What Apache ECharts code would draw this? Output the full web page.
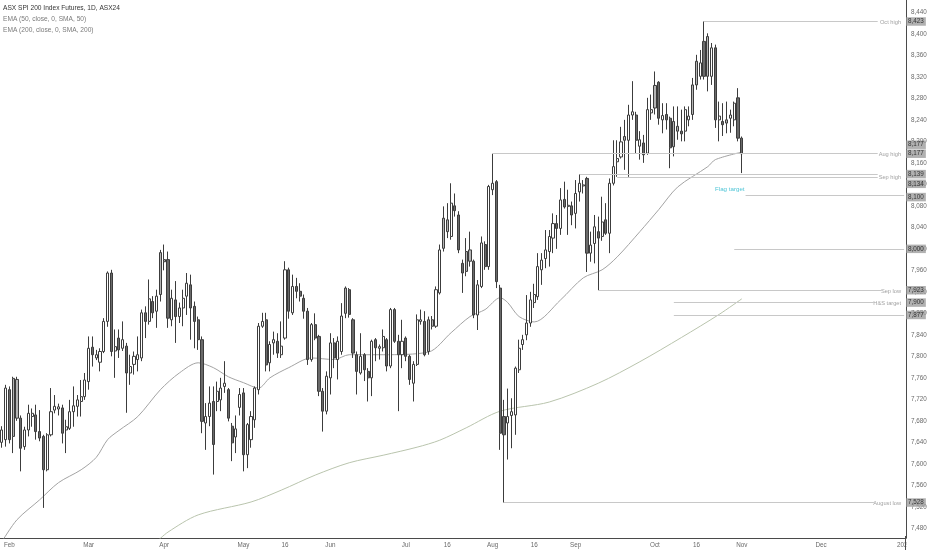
<!DOCTYPE html>
<html><head><meta charset="utf-8">
<script src="https://cdn.jsdelivr.net/npm/echarts@6/dist/echarts.min.js"></script>
<style>html,body{margin:0;padding:0;background:#fff}#c{width:932px;height:550px}</style>
</head><body><div id="c"></div>
<script>
// ---------- DATA ----------
const firstDay = '2024-01-30';
const lastDay = '2025-01-01';
const holidays = ['2024-03-29', '2024-04-01'];

const tickDates = ['2024-02-01','2024-03-01','2024-04-02','2024-05-01','2024-05-16','2024-06-03','2024-07-01','2024-07-16','2024-08-01','2024-08-16','2024-09-02','2024-10-01','2024-10-16','2024-11-01','2024-12-02','2025-01-01'];
const tickTexts = ['Feb','Mar','Apr','May','16','Jun','Jul','16','Aug','16','Sep','Oct','16','Nov','Dec','2025'];
const yTicks = [7480,7520,7560,7600,7640,7680,7720,7760,7800,7840,7880,7920,7960,8000,8040,8080,8120,8160,8200,8240,8280,8320,8360,8400,8440];

// [open, close, low, high], one per trading day from 2024-01-30
const candles = [
[7640,7663,7630,7670],[7645,7741,7632,7747],
[7738,7645,7638,7744],[7759,7651,7620,7762],[7757,7685,7680,7762],[7685,7629,7586,7690],[7632,7663,7626,7669],
[7663,7694,7651,7710],[7688,7694,7669,7703],[7691,7660,7645,7710],[7660,7648,7642,7700],[7651,7589,7518,7654],
[7589,7654,7586,7657],[7654,7697,7651,7741],[7700,7707,7694,7728],[7702,7706,7690,7712],[7704,7657,7638,7710],
[7663,7669,7620,7682],[7666,7697,7663,7719],[7697,7708,7669,7744],[7707,7719,7688,7728],[7716,7725,7688,7756],
[7725,7756,7719,7769],[7753,7815,7738,7837],[7817,7803,7781,7837],[7797,7803,7793,7812],[7789,7809,7772,7815],
[7809,7865,7806,7871],[7865,7955,7855,7958],[7955,7809,7800,7961],[7810,7818,7760,7850],[7834,7812,7797,7850],
[7815,7831,7810,7865],[7819,7769,7695,7825],[7769,7781,7747,7803],[7785,7800,7766,7809],[7794,7803,7772,7837],
[7797,7881,7791,7887],[7881,7865,7834,7893],[7865,7907,7859,7943],[7902,7881,7871,7912],[7884,7912,7853,7924],
[7993,7915,7902,7998],[7980,7976,7960,8008],[7980,7871,7853,7995],[7868,7908,7856,7924],[7905,7874,7825,7940],
[7874,7890,7862,7900],[7890,7908,7856,7924],[7912,7936,7877,7955],[7933,7890,7831,7952],[7893,7865,7815,7902],
[7868,7831,7812,7874],[7831,7679,7657,7837],[7676,7688,7626,7713],[7688,7713,7670,7744],[7716,7636,7580,7744],
[7716,7735,7698,7753],[7719,7741,7698,7760],[7744,7750,7732,7791],[7738,7685,7679,7741],[7670,7639,7605,7676],
[7650,7665,7620,7690],[7705,7729,7690,7741],[7732,7617,7586,7741],[7617,7673,7592,7676],[7645,7688,7630,7698],
[7682,7741,7667,7744],[7738,7856,7729,7862],[7856,7865,7853,7881],[7868,7784,7772,7881],[7788,7822,7772,7828],
[7825,7831,7803,7846],[7828,7806,7797,7843],[7803,7819,7797,7865],[7834,7961,7831,7977],[7961,7884,7870,7965],
[7881,7930,7877,7952],[7930,7921,7908,7946],[7921,7912,7902,7936],[7908,7884,7870,7915],[7884,7794,7784,7890],
[7794,7859,7790,7862],[7859,7834,7830,7880],[7837,7735,7726,7840],[7735,7698,7660,7741],[7698,7763,7692,7772],
[7760,7825,7729,7843],[7825,7797,7778,7834],[7794,7828,7757,7837],[7809,7875,7803,7899],[7927,7880,7871,7930],
[7924,7878,7872,7927],[7868,7806,7797,7871],[7803,7772,7729,7809],[7769,7800,7766,7843],[7803,7775,7754,7806],
[7772,7760,7716,7778],[7760,7828,7726,7831],[7831,7816,7791,7834],[7815,7818,7794,7822],[7816,7837,7809,7850],
[7831,7782,7772,7834],[7782,7887,7778,7890],[7887,7828,7825,7890],[7828,7803,7698,7840],[7803,7828,7778,7868],
[7834,7800,7791,7837],[7800,7757,7747,7803],[7750,7785,7716,7791],[7785,7868,7782,7878],[7865,7868,7859,7887],
[7865,7803,7800,7884],[7868,7809,7803,7874],[7868,7856,7850,7875],[7856,7924,7853,7930],[7918,7998,7915,8008],
[8057,8001,7995,8079],[8054,8032,8020,8085],[8023,8085,8017,8122],[8080,8071,8060,8103],[8063,7998,7992,8070],
[7973,7955,7918,7980],[7995,7958,7949,8020],[7998,7977,7967,8032],[7977,7877,7871,7980],[7877,7933,7849,7942],
[7930,8011,7927,8023],[8008,7967,7961,8014],[7967,8116,7961,8119],[8110,8122,8100,8177],[8125,7939,7927,8128],
[7927,7657,7626,7933],[7688,7654,7528,7719],[7676,7688,7608,7740],[7690,7697,7629,7722],[7691,7778,7654,7781],
[7775,7815,7769,7831],[7822,7831,7812,7840],[7840,7862,7830,7914],[7862,7905,7855,7920],[7900,7915,7890,7935],
[7911,7967,7905,7992],[7961,7979,7933,7992],[7982,7998,7964,8035],[7995,8023,7967,8035],[8020,8047,7992,8066],
[8047,8038,8000,8063],[8038,8091,8026,8113],[8092,8078,8075,8125],[8079,8081,8026,8110],[8080,8063,8044,8088],
[8066,8103,8038,8128],[8106,8122,8088,8139],[8117,8119,8103,8128],[8131,7992,7957,8134],[7992,8007,7976,8032],
[8010,8041,7973,8063],[8032,8020,7923,8060],[8023,8050,8015,8097],[8054,8029,8026,8085],[8029,8122,7992,8131],
[8122,8153,8118,8202],[8162,8168,8134,8202],[8171,8199,8168,8227],[8209,8202,8147,8240],[8202,8249,8134,8268],
[8249,8255,8240,8312],[8249,8202,8178,8255],[8191,8203,8166,8219],[8197,8175,8160,8212],[8178,8259,8175,8281],
[8253,8259,8240,8287],[8304,8262,8250,8330],[8310,8243,8231,8312],[8240,8248,8215,8271],[8250,8240,8222,8271],
[8243,8188,8150,8246],[8237,8190,8172,8265],[8228,8219,8203,8265],[8219,8214,8200,8259],[8219,8259,8200,8265],
[8240,8247,8228,8265],[8305,8250,8240,8318],[8349,8305,8296,8361],[8321,8346,8315,8370],[8386,8321,8315,8423],
[8395,8321,8293,8401],[8321,8374,8305,8383],[8374,8240,8225,8380],[8240,8247,8200,8274],[8237,8231,8210,8271],
[8240,8234,8215,8274],[8243,8249,8216,8259],[8240,8271,8228,8274],[8281,8206,8200,8299],[8206,8177,8141,8209]
];

// [trading-day index, value]
const ema50 = [[0,7455],[4,7496],[10,7533],[15,7565],[21,7589],[25,7612],[28,7645],[31,7662],[36,7688],[42,7738],[47,7769],[52,7788],[56,7779],[60,7762],[64,7751],[68,7741],[71,7760],[76,7779],[82,7797],[88,7794],[92,7803],[101,7803],[113,7808],[119,7844],[124,7874],[128,7887],[132,7909],[134,7900],[137,7874],[141,7864],[148,7905],[154,7946],[159,7961],[163,7985],[169,8032],[174,8073],[179,8115],[187,8153],[189,8166],[196,8180]];
const ema200 = [[41,7455],[44,7473],[52,7505],[66,7529],[74,7551],[83,7579],[92,7602],[101,7616],[110,7631],[116,7644],[123,7667],[132,7698],[145,7715],[158,7750],[169,7790],[180,7835],[190,7878],[196,7907]];

// horizontal levels: value, start index, end index, label
const levelValues = [8423, 8177, 8139, 8134, 8100, 8000, 7923, 7900, 7877, 7528];
const levelStarts = [186, 130, 153, 163, 197, 194, 158, 178, 178, 133];
const levelEnds   = [232, 232, 232, 232, 239, 239, 233, 231, 239, 231];
const levelNames  = ['Oct high', 'Aug high', '', 'Sep high', 'Flag target', '', 'Sep low', 'H&S target', '', 'August low'];
const badgeValues = [8423, 8177, 8177, 8139, 8134, 8100, 8000, 7923, 7900, 7877, 7528];

const titleText = 'ASX SPI 200 Index Futures, 1D, ASX24';
const legendTexts = ['EMA (50, close, 0, SMA, 50)', 'EMA (200, close, 0, SMA, 200)'];

// ---------- BUILD ----------
const dates = [];
(function(){
  let t = Date.parse(firstDay + 'T00:00:00Z');
  const end = Date.parse(lastDay + 'T00:00:00Z');
  while (t <= end) {
    const d = new Date(t);
    const wd = d.getUTCDay();
    const s = d.toISOString().slice(0, 10);
    if (wd !== 0 && wd !== 6 && holidays.indexOf(s) < 0) dates.push(s);
    t += 86400000;
  }
})();
const tickMap = {};
tickDates.forEach((d, i) => tickMap[d] = tickTexts[i]);
const FONT = '"Liberation Sans", Arial, sans-serif';
const fmt = v => String(v).replace(/\B(?=(\d{3})+(?!\d))/g, ',');

const candleData = candles.map((c, j) => {
  const prev = j > 0 ? candles[j - 1][1] : c[0];
  const up = c[1] >= c[0];
  const fill = up ? '#ffffff' : (c[1] >= prev ? '#b4b4b4' : '#6a6a6a');
  return { value: c, itemStyle: { color: fill, color0: fill, borderColor: '#3c3c3c', borderColor0: '#3c3c3c', borderWidth: 1 } };
});

const lastIdx = dates.length - 1;
const markLines = levelValues.map((v, i) => [
  { coord: [dates[levelStarts[i]], v] },
  { coord: [dates[Math.min(levelEnds[i], lastIdx)], v] }
]);

const labelPoints = [];
levelValues.forEach((v, i) => {
  const name = levelNames[i];
  if (!name) return;
  if (name === 'Flag target') {
    labelPoints.push({ value: [dates[levelStarts[i]], v], label: { formatter: name, position: 'left', distance: 1, offset: [0, -6], color: '#1fb5cc', fontSize: 6.2 } });
  } else {
    labelPoints.push({ value: [dates[lastIdx], v], label: { formatter: name, position: 'left', distance: 3, offset: [0, 1], color: '#8a8a8a', fontSize: 5.7 } });
  }
});

const badgeOffsets = [0, -9, 0, 0, 7, 2, 0, 0, 0, 0, 0];
const badgePoints = badgeValues.map((v, i) => ({
  value: [dates[lastIdx], v],
  label: { formatter: fmt(v), offset: [0, badgeOffsets[i]] }
}));

const chart = echarts.init(document.getElementById('c'), null, { renderer: 'canvas' });
chart.setOption({
  animation: false,
  backgroundColor: '#ffffff',
  grid: { left: 0, right: 26, top: 0, bottom: 12, containLabel: false },
  xAxis: {
    type: 'category', data: dates, boundaryGap: true,
    axisLine: { show: true, lineStyle: { color: '#4a4a4a', width: 1 } },
    axisTick: { show: false },
    splitLine: { show: false },
    axisLabel: {
      interval: (idx, val) => tickMap[val] !== undefined,
      formatter: val => tickMap[val] || '',
      fontSize: 6.3, color: '#6a6a6a', margin: 4, fontFamily: FONT
    }
  },
  yAxis: {
    type: 'value', position: 'right', min: 7462, max: 8463,
    axisLine: { show: true, lineStyle: { color: '#4a4a4a', width: 1 } },
    axisTick: { show: false },
    splitLine: { show: false },
    axisLabel: { customValues: yTicks, formatter: v => fmt(v), fontSize: 6.3, color: '#6a6a6a', margin: 5, fontFamily: FONT }
  },
  series: [
    {
      type: 'line', data: ema200, showSymbol: false, smooth: 0.3, silent: true, z: 1,
      lineStyle: { color: '#b9c4ad', width: 1 }
    },
    {
      type: 'line', data: ema50, showSymbol: false, smooth: 0.3, silent: true, z: 1,
      lineStyle: { color: '#a3a3a3', width: 1 }
    },
    {
      type: 'candlestick', data: candleData, barWidth: 2.6, z: 3,
      markLine: {
        silent: true, symbol: ['none', 'none'], label: { show: false },
        lineStyle: { color: '#c8c8c8', width: 1, type: 'solid' },
        data: markLines, animation: false
      }
    },
    {
      type: 'scatter', data: labelPoints, symbolSize: 0, silent: true, z: 4,
      label: { show: true, fontFamily: FONT }
    },
    {
      type: 'scatter', data: badgePoints, symbolSize: 0, silent: true, z: 6, clip: false,
      label: { show: true, position: 'right', distance: 2, backgroundColor: '#9d9d9d', color: '#111', fontSize: 6.3, padding: [1.5, 2, 1, 2], fontFamily: FONT }
    }
  ],
  graphic: [
    { type: 'rect', shape: { x: 906.5, y: 539, width: 30, height: 12 }, style: { fill: '#ffffff' }, z: 100 },
    { type: 'line', shape: { x1: 905.5, y1: 536, x2: 905.5, y2: 550 }, style: { stroke: '#4a4a4a', lineWidth: 1 }, z: 101 },
    { type: 'text', left: 3, top: 5, style: { text: titleText, fill: '#333', fontSize: 6.6, fontFamily: FONT }, z: 50 },
    { type: 'text', left: 3, top: 16, style: { text: legendTexts[0], fill: '#7a7a7a', fontSize: 6.6, fontFamily: FONT }, z: 50 },
    { type: 'text', left: 3, top: 27, style: { text: legendTexts[1], fill: '#7a7a7a', fontSize: 6.6, fontFamily: FONT }, z: 50 }
  ]
});
</script>
</body></html>
